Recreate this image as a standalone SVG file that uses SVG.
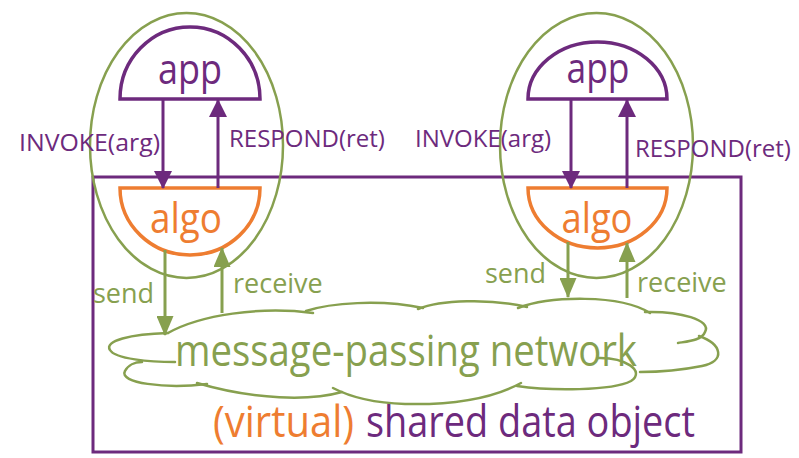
<svg xmlns="http://www.w3.org/2000/svg" width="799" height="458" viewBox="0 0 799 458">
<style>
text{font-family:"Open Sans","Noto Sans","DejaVu Sans",sans-serif}
.pu{fill:#6d2a7d}
.or{fill:#ee7d31}
.gr{fill:#87a04f}
.ell{fill:none;stroke:#87a04f;stroke-width:2.5}
.app{fill:#fff;stroke:#6d2a7d;stroke-width:3.5}
.algo{fill:#fff;stroke:#ee7d31;stroke-width:3.5}
.pl{stroke:#6d2a7d;stroke-width:3;fill:none}
.gl{stroke:#87a04f;stroke-width:3;fill:none}
.cloud{fill:none;stroke:#87a04f;stroke-width:2.5;stroke-linecap:round}
.big{font-size:42px}
.huge{font-size:43px}
.lab{font-size:24px}
.sm{font-size:27px}
</style>
<defs>
<marker id="ap" viewBox="0 0 18 18" markerWidth="18" markerHeight="18" refX="17" refY="9" orient="auto" markerUnits="userSpaceOnUse"><path d="M0,0 L18,9 L0,18 z" fill="#6d2a7d"/></marker>
<marker id="ag" viewBox="0 0 20 17" markerWidth="20" markerHeight="17" refX="19" refY="8.5" orient="auto" markerUnits="userSpaceOnUse"><path d="M0,0 L20,8.5 L0,17 z" fill="#87a04f"/></marker>
</defs>
<rect width="799" height="458" fill="#fff"/>
<g id="shared-object">
<rect x="93" y="177" width="648" height="275" fill="none" stroke="#6d2a7d" stroke-width="3"/>
<text class="huge or" x="213" y="437" textLength="141" lengthAdjust="spacingAndGlyphs">(virtual)</text>
<text class="huge pu" x="366" y="437" textLength="329" lengthAdjust="spacingAndGlyphs">shared data object</text>
</g>
<g id="process-left">
<ellipse class="ell" cx="186.5" cy="145.5" rx="96.5" ry="132.5"/>
</g>
<g id="process-right">
<ellipse class="ell" cx="596.5" cy="145.5" rx="96.5" ry="132.5"/>
</g>
<g id="app-left">
<path class="app" d="M120,99 A70,72 0 0 1 260,99 Z"/>
<text class="big pu" x="190" y="84" text-anchor="middle" textLength="64" lengthAdjust="spacingAndGlyphs">app</text>
</g>
<g id="app-right">
<path class="app" d="M528,99 A69.5,57 0 0 1 667,99 Z"/>
<text class="big pu" x="598" y="83" text-anchor="middle" textLength="63" lengthAdjust="spacingAndGlyphs">app</text>
</g>
<g id="algo-left">
<path class="algo" d="M120,188 A70,67 0 0 0 260,188 Z"/>
<text class="big or" x="186" y="233" text-anchor="middle" textLength="72" lengthAdjust="spacingAndGlyphs">algo</text>
</g>
<g id="algo-right">
<path class="algo" d="M528,188 A69.5,60 0 0 0 667,188 Z"/>
<text class="big or" x="597" y="233" text-anchor="middle" textLength="71" lengthAdjust="spacingAndGlyphs">algo</text>
</g>
<g id="network">
<path class="cloud" d="M168,333 C200,315 260,306 313,313"/>
<path class="cloud" d="M306,311 C330,303 380,299 423,308"/>
<path class="cloud" d="M418,309 C440,300 490,298 527,307"/>
<path class="cloud" d="M518,308 C550,296 620,294 650,313"/>
<path class="cloud" d="M645,312 C680,311 712,320 705,332 C702,340 690,341 678,343"/>
<path class="cloud" d="M699,336 C722,344 726,361 702,366 C682,370 660,372 640,372"/>
<path class="cloud" d="M597,358 C625,357 646,371 631,381 C612,391 550,391 517,386"/>
<path class="cloud" d="M521,383 C490,400 450,405 405,404 C375,403 352,398 333,388"/>
<path class="cloud" d="M342,392 C310,401 255,400 197,383"/>
<path class="cloud" d="M207,384 C165,389 118,383 125,371 C128,365 135,362 142,362"/>
<path class="cloud" d="M168,333 C130,334 104,341 110,350 C115,359 150,362 175,362"/>
<text class="huge gr" x="175" y="366" textLength="462" lengthAdjust="spacingAndGlyphs">message-passing network</text>
</g>
<g id="connectors">
<line class="pl" x1="163" y1="99" x2="163" y2="188" marker-end="url(#ap)"/>
<line class="pl" x1="218" y1="188" x2="218" y2="100" marker-end="url(#ap)"/>
<line class="pl" x1="571" y1="99" x2="571" y2="188" marker-end="url(#ap)"/>
<line class="pl" x1="627" y1="188" x2="627" y2="100" marker-end="url(#ap)"/>
<line class="gl" x1="165" y1="250" x2="165" y2="335" marker-end="url(#ag)"/>
<line class="gl" x1="222" y1="313" x2="222" y2="248" marker-end="url(#ag)"/>
<line class="gl" x1="568" y1="242" x2="568" y2="297" marker-end="url(#ag)"/>
<line class="gl" x1="627" y1="298" x2="627" y2="243" marker-end="url(#ag)"/>
<text class="lab pu" x="19" y="151" textLength="141" lengthAdjust="spacingAndGlyphs">INVOKE(arg)</text>
<text class="lab pu" x="229" y="147">RESPOND(ret)</text>
<text class="lab pu" x="415" y="147">INVOKE(arg)</text>
<text class="lab pu" x="635" y="157">RESPOND(ret)</text>
<text class="sm gr" x="93" y="303">send</text>
<text class="sm gr" x="233" y="293">receive</text>
<text class="sm gr" x="485" y="283">send</text>
<text class="sm gr" x="637" y="292">receive</text>
</g>
</svg>
